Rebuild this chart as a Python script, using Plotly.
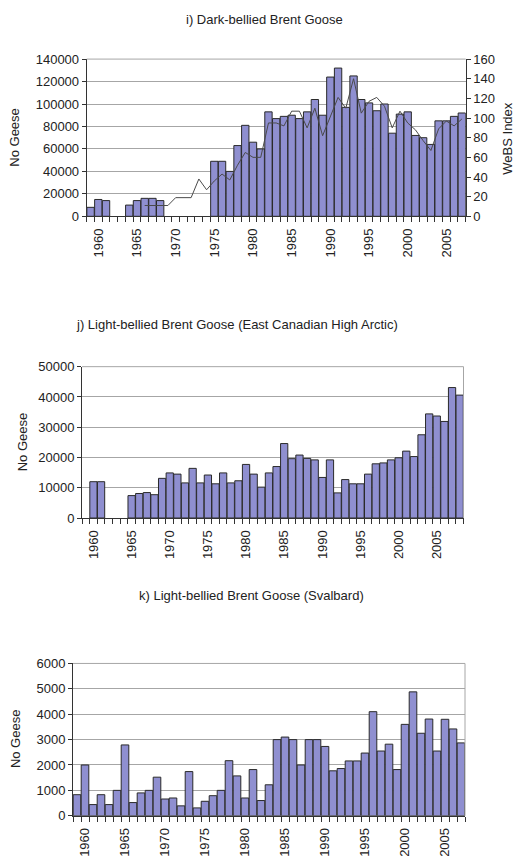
import plotly.graph_objects as go

W, H = 517, 867

years_i = list(range(1959, 2008))
dark_bellied = [8000, 15000, 14000, None, None, 10000, 14000, 16000, 16000, 14000,
                None, None, None, None, None, None,
                49000, 49000, 40000, 63000, 81000, 66000, 60000, 93000, 87000, 89000,
                90000, 87000, 93000, 104000, 90000, 124000, 132000, 97000, 125000, 104000,
                101000, 94000, 100000, 74000, 91000, 93000, 72000, 70000, 64000, 85000,
                85000, 89000, 92000]
webs_index = [None, None, None, None, None, None, None,
              11, 11, 11, 11, 19, 19, 19, 38, 27, 36, 43, 37, 52, 65, 60, 60,
              95, 95, 92, 107, 107, 90, 110, 82, 101, 121, 110, 140, 105, 117, 121,
              112, 90, 107, 95, 88, 77, 67, 89, 97, 92, 99]

years_j = list(range(1959, 2009))
east_canadian = [None, 12000, 12000, None, None, None, 7400, 8100, 8400, 7700,
                 13100, 14900, 14500, 11600, 16400, 11600, 14200, 11300, 14900, 11600,
                 12300, 17700, 14500, 10200, 14900, 17000, 24600, 19600, 20800, 19700,
                 19200, 13400, 19200, 8300, 12700, 11300, 11300, 14500, 17900, 18200,
                 19200, 19900, 22100, 20300, 27500, 34400, 33700, 31900, 43100, 40600]

years_k = list(range(1959, 2008))
svalbard = [830, 2000, 440, 830, 440, 1000, 2790, 520, 900, 1000,
            1520, 660, 700, 390, 1740, 310, 570, 790, 1000, 2170,
            1570, 700, 1820, 600, 1220, 3000, 3100, 3000, 2000, 3000,
            3000, 2730, 1770, 1860, 2160, 2160, 2470, 4100, 2550, 2820,
            1820, 3600, 4880, 3250, 3810, 2550, 3800, 3420, 2870]

label_years = list(range(1960, 2006, 5))

titles = ["i) Dark-bellied Brent Goose",
          "j) Light-bellied Brent Goose (East Canadian High Arctic)",
          "k) Light-bellied Brent Goose (Svalbard)"]

FONT = "Liberation Sans, Arial, sans-serif"
TXT = "#222222"
BAR = "#8f8fd0"
EDGE = "#2a2a2a"
GRID = "#a6a6a6"
AX = "#333333"


def px(x):
    return x / W


def py(y):
    return 1 - y / H


fig = go.Figure()
fig.add_trace(go.Bar(x=years_i, y=dark_bellied, marker=dict(color=BAR, line=dict(color=EDGE, width=1)),
                     xaxis="x", yaxis="y", showlegend=False))
fig.add_trace(go.Scatter(x=years_i, y=webs_index, mode="lines", line=dict(color="#4a4a4a", width=1),
                         xaxis="x", yaxis="y2", showlegend=False))
fig.add_trace(go.Bar(x=years_j, y=east_canadian, marker=dict(color=BAR, line=dict(color=EDGE, width=1)),
                     xaxis="x2", yaxis="y3", showlegend=False))
fig.add_trace(go.Bar(x=years_k, y=svalbard, marker=dict(color=BAR, line=dict(color=EDGE, width=1)),
                     xaxis="x3", yaxis="y4", showlegend=False))


def xaxis(dom, rng, anchor):
    return dict(domain=dom, range=rng, anchor=anchor,
                tickmode="array", tickvals=label_years, ticktext=[str(v) for v in label_years],
                tickangle=-90, ticks="outside", ticklen=6, tickcolor="rgba(0,0,0,0)",
                showline=True, linecolor=AX, linewidth=1, showgrid=False, zeroline=False,
                minor=dict(tickmode="linear", tick0=0.5, dtick=1, ticks="outside", ticklen=5,
                           tickcolor=AX, tickwidth=1, showgrid=False),
                tickfont=dict(family=FONT, size=13, color=TXT), fixedrange=True)


def yaxis(dom, rng, dtick, anchor):
    return dict(domain=dom, range=rng, dtick=dtick, anchor=anchor, tickformat="d",
                ticks="outside", ticklen=4, tickcolor=AX,
                showline=True, linecolor=AX, linewidth=1,
                showgrid=True, gridcolor=GRID, gridwidth=1, zeroline=False,
                tickfont=dict(family=FONT, size=13, color=TXT), fixedrange=True)


fig.update_layout(
    xaxis=xaxis([px(86.7), px(465.7)], [1958.5, 2007.5], "y"),
    yaxis=yaxis([py(213), py(53)], [0, 140000], 20000, "x"),
    yaxis2=dict(overlaying="y", side="right", anchor="x", range=[0, 160], dtick=20,
                ticks="outside", ticklen=4, tickcolor=AX, showline=True, linecolor=AX,
                linewidth=1, showgrid=False, zeroline=False, tickformat="d",
                tickfont=dict(family=FONT, size=13, color=TXT), fixedrange=True),
    xaxis2=xaxis([px(82), px(463.5)], [1958.5, 2008.5], "y3"),
    yaxis3=yaxis([py(520), py(366)], [0, 50000], 10000, "x2"),
    xaxis3=xaxis([px(73), px(465)], [1958.5, 2007.5], "y4"),
    yaxis4=yaxis([py(823), py(668)], [0, 6000], 1000, "x3"),
)

shapes = []
for xr, yr in [("x2 domain", "y3 domain"), ("x3 domain", "y4 domain")]:
    shapes.append(dict(type="line", xref=xr, yref=yr, x0=1, x1=1, y0=0, y1=1,
                       line=dict(color=GRID, width=1)))
    shapes.append(dict(type="line", xref=xr, yref=yr, x0=0, x1=1, y0=1, y1=1,
                       line=dict(color=GRID, width=1)))
shapes.append(dict(type="line", xref="x domain", yref="y domain", x0=0, x1=1, y0=1, y1=1,
                   line=dict(color=GRID, width=1)))

annotations = []
for t, (cx, cy) in zip(titles, [(264, 13), (237, 323), (251, 599)]):
    annotations.append(dict(text=t, x=px(cx), y=py(cy), xref="paper", yref="paper",
                            showarrow=False, xanchor="center", yanchor="middle",
                            font=dict(family=FONT, size=13, color=TXT)))
for cx, cy in [(15, 133), (22, 443), (15, 745)]:
    annotations.append(dict(text="No Geese", x=px(cx), y=py(cy), xref="paper", yref="paper",
                            showarrow=False, textangle=-90, xanchor="center", yanchor="middle",
                            font=dict(family=FONT, size=13, color=TXT)))
annotations.append(dict(text="WeBS Index", x=px(508), y=py(133), xref="paper", yref="paper",
                        showarrow=False, textangle=-90, xanchor="center", yanchor="middle",
                        font=dict(family=FONT, size=13, color=TXT)))

fig.update_layout(width=W, height=H, margin=dict(l=0, r=0, t=0, b=0),
                  paper_bgcolor="white", plot_bgcolor="white",
                  bargap=0.05, shapes=shapes, annotations=annotations,
                  font=dict(family=FONT, size=13, color=TXT))

fig.write_html("out.html")
